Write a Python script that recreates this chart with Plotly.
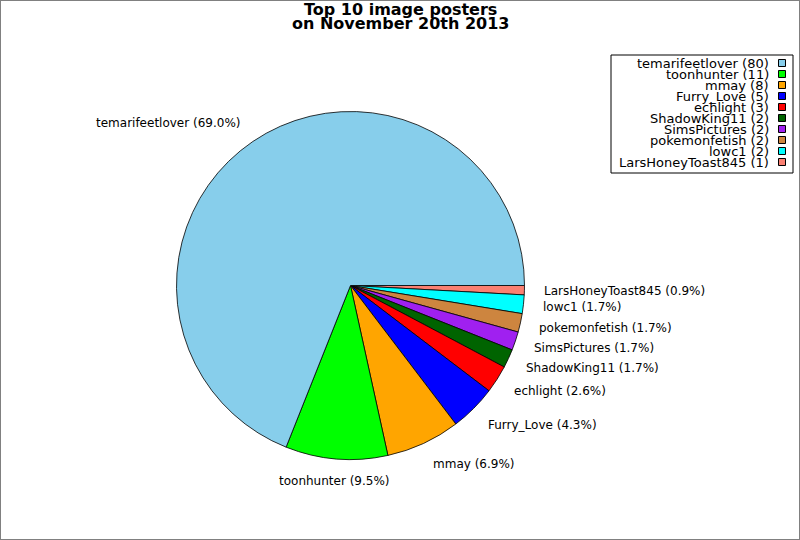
import math
import plotly.graph_objects as go

# ---- data ----
names = ["temarifeetlover", "toonhunter", "mmay", "Furry_Love", "echlight",
         "ShadowKing11", "SimsPictures", "pokemonfetish", "lowc1", "LarsHoneyToast845"]
counts = [80, 11, 8, 5, 3, 2, 2, 2, 2, 1]
colors = ["#87CEEB", "#00FF00", "#FFA500", "#0000FF", "#FF0000",
          "#006400", "#A020F0", "#CD853F", "#00FFFF", "#FA8072"]
title_lines = ["Top 10 image posters", "on November 20th 2013"]

W, H = 800, 540
CX, CY, R = 350.5, 285.5, 174.0
FONT = "DejaVu Sans"

fig = go.Figure()
# drawn clockwise from 3 o'clock in reverse order == counterclockwise from 3 o'clock in order
fig.add_trace(go.Pie(
    labels=names[::-1], values=counts[::-1], sort=False,
    direction="clockwise", rotation=90,
    marker=dict(colors=colors[::-1], line=dict(color="black", width=0.8)),
    textinfo="none", hoverinfo="skip", showlegend=False,
    domain=dict(x=[(CX - R) / W, (CX + R) / W],
                y=[1 - (CY + R) / H, 1 - (CY - R) / H]),
))

def px(x):
    return x / W

def py(y):
    return 1 - y / H

ann = []
shapes = []
total = sum(counts)
cum = 0
for n, c in zip(names, counts):
    mid = (cum + c / 2) / total * 2 * math.pi
    cum += c
    cx, sy = math.cos(mid), math.sin(mid)
    x = CX + 1.1 * R * cx
    y = CY - 1.13 * R * sy
    if abs(cx) < 0.1:
        xa = "center"
    elif cx > 0:
        xa = "left"
    else:
        xa = "right"
    ann.append(dict(x=px(x), y=py(y), xref="paper", yref="paper",
                    text=f"{n} ({100 * c / total:.1f}%)", showarrow=False,
                    xanchor=xa, yanchor="middle",
                    font=dict(family=FONT, size=12, color="black")))

# title
for i, t in enumerate(title_lines):
    ann.append(dict(x=0.5, y=py(9.5 + 13.5 * i), xref="paper", yref="paper",
                    text=f"<b>{t}</b>", showarrow=False, xanchor="center",
                    yanchor="middle", font=dict(family=FONT, size=16, color="black")))

# legend (markers after text, right aligned)
LX0, LX1, LY0, LY1 = 611, 793, 55, 173
shapes.append(dict(type="rect", xref="paper", yref="paper",
                   x0=px(LX0), x1=px(LX1), y0=py(LY1), y1=py(LY0),
                   line=dict(color="black", width=1), fillcolor="white", layer="below"))
for i, (n, c, col) in enumerate(zip(names, counts, colors)):
    yc = 63 + 11 * i
    ann.append(dict(x=px(771), y=py(yc), xref="paper", yref="paper",
                    text=f"{n} ({c})", showarrow=False, xanchor="right",
                    yanchor="middle", font=dict(family=FONT, size=13, color="black")))
    shapes.append(dict(type="rect", xref="paper", yref="paper",
                       x0=px(778.5), x1=px(785.5), y0=py(yc + 3.5), y1=py(yc - 3.5),
                       line=dict(color="black", width=1), fillcolor=col))

# figure border
shapes.append(dict(type="rect", xref="paper", yref="paper", x0=0, x1=1, y0=0, y1=1,
                   line=dict(color="#808080", width=2)))

fig.update_layout(width=W, height=H, margin=dict(l=0, r=0, t=0, b=0),
                  paper_bgcolor="white", plot_bgcolor="white",
                  annotations=ann, shapes=shapes,
                  font=dict(family=FONT))
fig.write_html("out.html", config={"displayModeBar": False},
               post_script="document.body.style.margin='0';document.body.style.overflow='hidden';")
